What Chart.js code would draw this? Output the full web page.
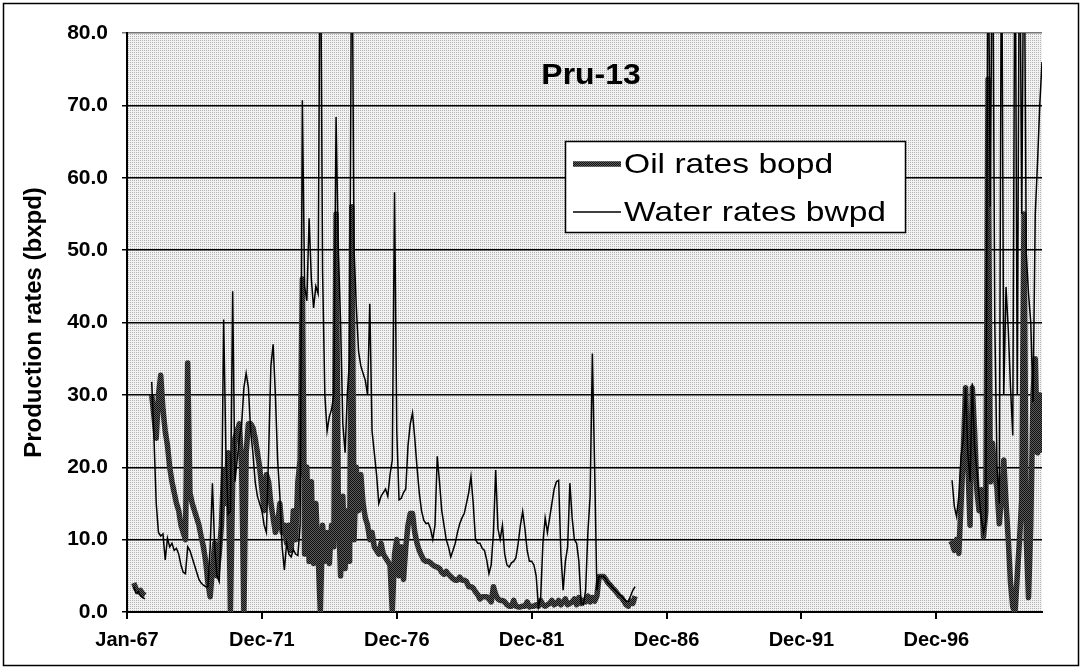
<!DOCTYPE html>
<html>
<head>
<meta charset="utf-8">
<script src="https://cdn.jsdelivr.net/npm/chart.js@4.4.0/dist/chart.umd.min.js"></script>
<style>
  html, body { margin: 0; padding: 0; background: #fff; }
  canvas { display: block; }
</style>
</head>
<body>
<canvas id="chart" width="1082" height="669"></canvas>
<script>
// month index 0 = Jan-67
const tickMonths = [0, 60, 120, 180, 240, 300, 360];
const tickLabels = ['Jan-67', 'Dec-71', 'Dec-76', 'Dec-81', 'Dec-86', 'Dec-91', 'Dec-96'];
const xMax = 407;
const yMax = 80;

// first producing period, monthly values from month 3
const startA = 3;
const oilA = [
  4.0, 3.2, 2.8, 3.0, 2.5, 2.3, null, null,
  30, 27, 24, 30, 32.7, 28, 25, 23, 20, 18, 16.5, 15, 14, 12, 11, 10, 34.4,
  16.5, 15, 14, 13, 12, 10.4, 9, 7, 4, 2.1, 6, 9.5, 5, 8, 12, 19.6, 15, 22,
  0, 18, 24, 25, 26, 20, 0, 22, 26, 26, 25.5, 24, 22, 20, 17, 14, 19, 18,
  15, 13, 11, 12, 15, 11, 12, 9.5, 12, 8.5, 14, 10, 18, 21, 46, 8, 20, 7,
  18, 6.7, 15, 8, 0, 12, 7, 11, 6.7, 12, 9, 55, 15, 5, 16, 6, 14, 7, 56,
  10, 20, 14, 19, 15, 13, 12, 10, 11, 9, 8.5, 8, 9.5, 8, 7.5, 7, 6.5, 0,
  8, 10, 5, 9, 4.5, 9, 12, 13.6, 13.6, 11, 9.5, 8.5, 7.8, 7.2, 7, 7, 6.8,
  6.5, 6.3, 6.2, 6, 5.5, 5.2, 5.6, 5.2, 4.9, 4.6, 4.4, 4.4, 4.8, 4.4, 4.4,
  4.2, 3.5, 3.5, 3.3, 2.8, 2.4, 1.8, 2.1, 2.1, 2.1, 1.8, 1.4, 3.5, 2.4, 1.8,
  1.6, 1.6, 1.4, 1.0, 0.8, 0.8, 1.6, 0.8, 0.7, 0.7, 0.8, 0.8, 1.4, 0.7, 0.8,
  0.8, 1.0, 0.8, 1.6, 1.0, 0.8, 1.0, 1.2, 1.6, 1.0, 1.2, 1.6, 1.0, 1.4, 1.8,
  1.0, 1.2, 1.4, 1.8, 1.0, 2.0, 1.2, 1.6, 1.4, 2.2, 1.4, 2.0, 1.5, 2.2,
  4.9, 4.9, 4.9, 4.5, 4.0, 3.7, 3.3, 3.0, 2.6, 2.2, 2.0, 1.5, 1.0, 0.8, 1.5,
  1.2, 2.2
];
const waterA = [
  3.5, 2.6, 2.8, 2.2, 2.0, 1.8, null, null,
  31.8, 24, 15, 11, 10.5, 10.8, 7.2, 10.2, 9, 9.5, 8.5, 8.8, 8, 6.5, 5.5, 5.3,
  9, 8.5, 7.5, 6.5, 5.5, 4.5, 4, 3.7, 3.5, 3.5, 9, 17.8, 9, 5, 4.2, 12, 40.4,
  22, 13.5, 14, 44.3, 18, 21, 24, 26, 31, 33, 31, 25, 22, 18, 16, 15, 14, 12,
  11, 22, 34, 37, 30, 21, 16, 9, 5.8, 9.5, 8, 7.6, 8.6, 8, 7.8, 12, 70.7, 45,
  43, 54.4, 46, 42, 45, 44, 100, 47, 30, 25, 27, 28, 30, 68.4, 50, 40, 26, 22,
  30, 35, 100, 50, 42.2, 36, 34, 33, 32, 30, 42.6, 25, 22, 19, 15, 16, 16.5,
  17, 16, 19, 21, 58, 25, 15.5, 15.7, 16.5, 17, 23, 26, 27.5, 24, 20, 16.5,
  14, 12.7, 12.2, 12.3, 11.5, 10, 12, 21.5, 18, 14, 12, 10, 9, 7.6, 8.5, 9.5,
  11, 12.2, 13, 13.6, 15, 16.5, 18.7, 15, 10, 9.5, 9.5, 8.8, 8.5, 7.2, 5.3,
  6.5, 11, 19.6, 11.5, 10, 12, 8, 6.5, 6.2, 6.8, 7, 7.5, 9.5, 12, 13.9, 11.5,
  8.5, 7, 7, 6.5, 5, 0.7, 2, 9.5, 13, 11, 13, 15, 17, 18, 18.2, 8, 3, 7, 9,
  17.8, 13, 10, 9.5, 7, 1.2, 1, 3, 11, 16, 35.7, 20, 3, 4.9, 4.9, 4.9, 4.5, 4,
  3.8, 3.4, 3, 2.7, 2.4, 2.2, 1.8, 1.5, 1.5, 2.2, 3, 3.5
];

// second producing period
const oilStartB = 366;
const oilB = [
  9.3, 9.5, 8.5, 10, 8.1, 15, 22, 31, 20.5, 12, 31, 25, 17, 14, 16.9, 10.4,
  14, 73.6, 18, 23.3, 19, 17, 12.2, 16, 21, 15, 10, 4, 0.7, 0, 5, 10, 15.5,
  55, 10, 2, 12, 30, 35, 22, 30, 22
];
const waterStartB = 367;
const waterB = [
  18.2, 14.6, 13.2, 16, 21.5, 23.8, 31, 22, 18, 31.6, 22.8, 19.6, 16, 13, 11,
  12.5, 100, 56, 100, 40, 20, 15, 100, 30, 44.9, 39, 31, 24.4, 100, 30, 100,
  55, 100, 49.5, 44, 40, 29, 55, 62, 70, 76
];

const font = 'Liberation Sans, Arial, Helvetica, sans-serif';

function toPoints(startA, a, startB, b) {
  const pts = a.map((v, i) => ({ x: startA + i, y: v }));
  pts.push({ x: startA + a.length, y: null });
  b.forEach((v, i) => pts.push({ x: startB + i, y: v }));
  return pts;
}

const canvas = document.getElementById('chart');
const ctx = canvas.getContext('2d');

function makePattern(bg, fg, diag) {
  const c = document.createElement('canvas');
  c.width = 2; c.height = 2;
  const g = c.getContext('2d');
  g.fillStyle = bg; g.fillRect(0, 0, 2, 2);
  g.fillStyle = fg; g.fillRect(0, 0, 1, 1);
  if (diag) g.fillRect(1, 1, 1, 1);
  return ctx.createPattern(c, 'repeat');
}

const plotFill = makePattern('#f2f2f2', '#b4b4b4', false);
const oilStroke = makePattern('#5c5c5c', '#101010', true);

// draws stretched text (the source fonts run wide)
function wideText(ctx, text, x, y, sx) {
  ctx.save();
  ctx.translate(x, y);
  ctx.scale(sx, 1);
  ctx.fillText(text, 0, 0);
  ctx.restore();
}

const decorations = {
  id: 'decorations',
  beforeDraw(chart) {
    const { ctx, chartArea: a } = chart;
    ctx.save();
    ctx.fillStyle = plotFill;
    ctx.fillRect(a.left, a.top, a.right - a.left, a.bottom - a.top);
    ctx.restore();
  },
  afterDraw(chart) {
    const { ctx } = chart;
    const ds = chart.data.datasets;
    ctx.save();
    // outer frame
    ctx.strokeStyle = '#000';
    ctx.lineWidth = 1.5;
    ctx.strokeRect(3.5, 3.5, 1075, 662);
    // title
    ctx.fillStyle = '#000';
    ctx.font = 'bold 29px ' + font;
    ctx.textAlign = 'center';
    ctx.textBaseline = 'middle';
    wideText(ctx, 'Pru-13', 591, 76, 1.1);
    // legend box
    ctx.fillStyle = '#fff';
    ctx.fillRect(565, 141, 340, 91);
    ctx.lineWidth = 1.5;
    ctx.strokeRect(565.5, 141.5, 340, 91);
    ctx.font = '28px ' + font;
    ctx.textAlign = 'left';
    [0, 1].forEach(i => {
      const y = 164 + i * 48;
      ctx.strokeStyle = ds[i].borderColor;
      ctx.lineWidth = ds[i].borderWidth;
      ctx.beginPath();
      ctx.moveTo(573, y);
      ctx.lineTo(621, y);
      ctx.stroke();
      ctx.fillStyle = '#000';
      wideText(ctx, ds[i].label, 624, y + 1, 1.2);
    });
    ctx.restore();
  }
};

new Chart(ctx, {
  type: 'line',
  data: {
    datasets: [
      {
        label: 'Oil rates bopd',
        data: toPoints(startA, oilA, oilStartB, oilB),
        borderColor: oilStroke,
        borderWidth: 5.5,
        borderJoinStyle: 'round',
        pointRadius: 0,
        tension: 0,
        spanGaps: false,
        order: 2,
        clip: 0
      },
      {
        label: 'Water rates bwpd',
        data: toPoints(startA, waterA, waterStartB, waterB),
        borderColor: '#000',
        borderWidth: 1.5,
        pointRadius: 0,
        tension: 0,
        spanGaps: false,
        order: 1,
        clip: 0
      }
    ]
  },
  options: {
    responsive: false,
    animation: false,
    layout: { padding: { top: 33, right: 40, left: 0, bottom: 0 } },
    scales: {
      x: {
        type: 'linear',
        min: 0,
        max: xMax,
        afterBuildTicks: s => { s.ticks = tickMonths.map(v => ({ value: v })); },
        afterFit: s => { s.height = 57; },
        ticks: {
          autoSkip: false,
          maxRotation: 0,
          padding: 9,
          color: '#000',
          font: { family: font, size: 20, weight: 'bold' },
          callback: (v, i) => tickLabels[i]
        },
        grid: { drawOnChartArea: false, tickLength: 7, color: '#000', lineWidth: 2 },
        border: { color: '#000', width: 2 }
      },
      y: {
        min: 0,
        max: yMax,
        afterFit: s => { s.width = 127; },
        ticks: {
          stepSize: 10,
          padding: 14,
          color: '#000',
          font: { family: font, size: 21, weight: 'bold' },
          callback: v => v.toFixed(1)
        },
        grid: {
          color: c => (c.tick && c.tick.value === yMax ? '#777' : '#000'),
          lineWidth: 1.5,
          tickLength: 5
        },
        border: { color: '#000', width: 2 },
        title: {
          display: true,
          text: 'Production rates (bxpd)',
          color: '#000',
          font: { family: font, size: 24, weight: 'bold' },
          padding: { top: 20, bottom: 0 }
        }
      }
    },
    plugins: {
      legend: { display: false },
      tooltip: { enabled: false }
    }
  },
  plugins: [decorations]
});
</script>
</body>
</html>
